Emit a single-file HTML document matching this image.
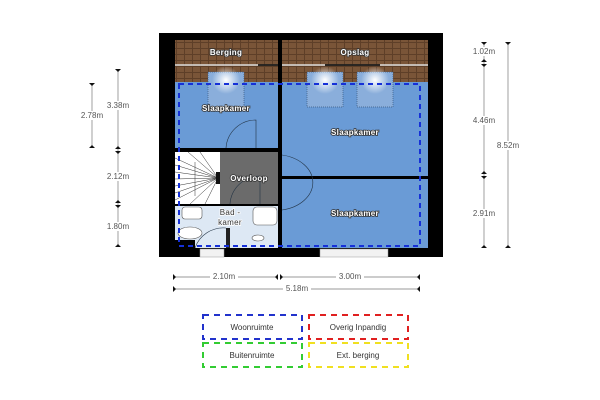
<!DOCTYPE html>
<html><head><meta charset="utf-8"><style>
html,body{margin:0;padding:0;background:#fff;width:600px;height:400px;overflow:hidden}
svg text{font-family:"Liberation Sans",sans-serif}
.rl{font-size:8px;fill:#fff;stroke:#333;stroke-width:1.6px;paint-order:stroke;font-weight:bold;letter-spacing:0.3px}
.bl{font-size:8px;fill:#333;stroke:#fff;stroke-width:1.5px;paint-order:stroke;letter-spacing:0.3px}
.dim{font-size:8px;fill:#555}
.lg{font-size:8px;fill:#333}
</style></head><body>
<svg width="600" height="400" viewBox="0 0 600 400" xmlns="http://www.w3.org/2000/svg">
<defs>
<pattern id="br" width="8" height="6" patternUnits="userSpaceOnUse">
<rect width="8" height="6" fill="#7a5538"/>
<path d="M0 0.5H8M0.5 0V6" stroke="#5e3f28" stroke-width="1"/>
</pattern>
<radialGradient id="gl"><stop offset="0" stop-color="#fff"/><stop offset="1" stop-color="#fff" stop-opacity="0"/></radialGradient>
</defs>
<rect x="159" y="33" width="284" height="224" fill="#000"/>
<rect x="175" y="40" width="103" height="42" fill="url(#br)"/>
<rect x="282" y="40" width="146" height="42" fill="url(#br)"/>
<line x1="175" y1="65" x2="278" y2="65" stroke="#ddd" stroke-width="1.5"/>
<line x1="282" y1="65" x2="428" y2="65" stroke="#ddd" stroke-width="1.5"/>
<line x1="258" y1="65" x2="278" y2="65" stroke="#000" stroke-width="1.5"/>
<line x1="325" y1="65" x2="380" y2="65" stroke="#000" stroke-width="1.5"/>
<rect x="175" y="82" width="103" height="66" fill="#6a9bd6"/>
<rect x="282" y="82" width="146" height="94" fill="#6a9bd6"/>
<rect x="282" y="179" width="146" height="69" fill="#6a9bd6"/>
<rect x="175" y="152" width="45" height="52" fill="#fff"/>
<rect x="220" y="152" width="58" height="52" fill="#6b6b6b"/>
<rect x="175" y="206" width="103" height="42" fill="#dde8f4"/>
<line x1="278" y1="177" x2="428" y2="177" stroke="#000" stroke-width="2"/>
<rect x="208" y="72" width="36" height="35" fill="#8aaedb" stroke="#3a5a80" stroke-dasharray="1,1" stroke-width="0.7"/>
<rect x="307" y="72" width="36" height="35" fill="#8aaedb" stroke="#3a5a80" stroke-dasharray="1,1" stroke-width="0.7"/>
<rect x="357" y="72" width="36" height="35" fill="#8aaedb" stroke="#3a5a80" stroke-dasharray="1,1" stroke-width="0.7"/>
<circle cx="226" cy="80" r="14" fill="url(#gl)"/>
<circle cx="325" cy="80" r="14" fill="url(#gl)"/>
<circle cx="375" cy="80" r="14" fill="url(#gl)"/>
<g stroke="#333" stroke-width="0.5">
<line x1="175" y1="158" x2="218" y2="178"/><line x1="175" y1="165" x2="218" y2="178"/>
<line x1="175" y1="172" x2="218" y2="178"/><line x1="175" y1="179" x2="218" y2="178"/>
<line x1="175" y1="186" x2="218" y2="178"/><line x1="175" y1="193" x2="218" y2="178"/>
<line x1="175" y1="200" x2="218" y2="178"/><line x1="188" y1="152" x2="218" y2="178"/>
<line x1="200" y1="152" x2="218" y2="178"/><line x1="190" y1="204" x2="218" y2="178"/>
<line x1="205" y1="204" x2="218" y2="178"/><line x1="195" y1="162" x2="195" y2="196"/>
</g>
<rect x="216" y="172" width="4" height="12" fill="#111"/>
<g fill="none" stroke="#234" stroke-width="0.6">
<path d="M226 148 A30 30 0 0 1 256 120 V148"/>
<path d="M282 155 A38 28 0 0 1 282 210"/>
<path d="M230 204 A30 30 0 0 1 260 176 V204"/>
<path d="M195 248 A30 30 0 0 1 226 228"/>
</g>
<rect x="278" y="152" width="4" height="23" fill="#ccc"/>
<rect x="278" y="179" width="4" height="23" fill="#ccc"/>
<rect x="226" y="228" width="4" height="20" fill="#222"/>
<rect x="182" y="207" width="20" height="12" rx="3" fill="#fff" stroke="#555" stroke-width="0.6"/>
<rect x="253" y="207" width="24" height="18" rx="4" fill="#fff" stroke="#555" stroke-width="0.6"/>
<ellipse cx="190" cy="233" rx="12" ry="6" fill="#fff" stroke="#555" stroke-width="0.6"/>
<ellipse cx="258" cy="238" rx="6" ry="3" fill="#fff" stroke="#555" stroke-width="0.6"/>
<rect x="278" y="40" width="4" height="208" fill="#000"/>
<rect x="175" y="148" width="51" height="4" fill="#000"/>
<rect x="256" y="148" width="22" height="4" fill="#000"/>
<rect x="175" y="204" width="55" height="2" fill="#000"/>
<rect x="260" y="204" width="18" height="2" fill="#000"/>
<rect x="175" y="240" width="20" height="8" fill="#000"/>
<rect x="200" y="249" width="24" height="8" fill="#f2f2f2" stroke="#999" stroke-width="0.5"/>
<rect x="320" y="249" width="68" height="8" fill="#f2f2f2" stroke="#999" stroke-width="0.5"/>
<rect x="179" y="84" width="241" height="162" fill="none" stroke="#1530d8" stroke-width="2" stroke-dasharray="5,4"/>
<text class="rl" x="226" y="55" text-anchor="middle">Berging</text>
<text class="rl" x="355" y="55" text-anchor="middle">Opslag</text>
<text class="rl" x="226" y="111" text-anchor="middle">Slaapkamer</text>
<text class="rl" x="355" y="135" text-anchor="middle">Slaapkamer</text>
<text class="rl" x="249" y="181" text-anchor="middle">Overloop</text>
<text class="bl" x="230" y="215" text-anchor="middle">Bad -</text>
<text class="bl" x="230" y="225" text-anchor="middle">kamer</text>
<text class="rl" x="355" y="216" text-anchor="middle">Slaapkamer</text>
<g stroke="#777" stroke-width="0.7">
<line x1="484" y1="42" x2="484" y2="248"/>
<line x1="508" y1="42" x2="508" y2="248"/>
<line x1="118" y1="69" x2="118" y2="247"/>
<line x1="92" y1="83" x2="92" y2="148"/>
<line x1="173" y1="277" x2="278" y2="277"/>
<line x1="280" y1="277" x2="420" y2="277"/>
<line x1="173" y1="289" x2="420" y2="289"/>
</g>
<g fill="#111">
<path d="M481 42h6l-3 3z M481 62h6l-3-3z M481 64h6l-3 3z M481 174h6l-3-3z M481 176h6l-3 3z M481 248h6l-3-3z"/>
<path d="M505 42h6l-3 3z M505 248h6l-3-3z"/>
<path d="M115 69h6l-3 3z M115 149h6l-3-3z M115 151h6l-3 3z M115 203h6l-3-3z M115 205h6l-3 3z M115 247h6l-3-3z"/>
<path d="M89 83h6l-3 3z M89 148h6l-3-3z"/>
<path d="M173 274v6l3-3z M278 274v6l-3-3z M280 274v6l3-3z M420 274v6l-3-3z M173 286v6l3-3z M420 286v6l-3-3z"/>
</g>
<g class="dim">
<rect x="470" y="47" width="28" height="9" fill="#fff"/><text x="484" y="54" text-anchor="middle">1.02m</text>
<rect x="470" y="116" width="28" height="9" fill="#fff"/><text x="484" y="123" text-anchor="middle">4.46m</text>
<rect x="470" y="209" width="28" height="9" fill="#fff"/><text x="484" y="216" text-anchor="middle">2.91m</text>
<rect x="494" y="141" width="28" height="9" fill="#fff"/><text x="508" y="148" text-anchor="middle">8.52m</text>
<rect x="104" y="101" width="28" height="9" fill="#fff"/><text x="118" y="108" text-anchor="middle">3.38m</text>
<rect x="78" y="111" width="28" height="9" fill="#fff"/><text x="92" y="118" text-anchor="middle">2.78m</text>
<rect x="104" y="172" width="28" height="9" fill="#fff"/><text x="118" y="179" text-anchor="middle">2.12m</text>
<rect x="104" y="222" width="28" height="9" fill="#fff"/><text x="118" y="229" text-anchor="middle">1.80m</text>
<rect x="210" y="272" width="28" height="9" fill="#fff"/><text x="224" y="279" text-anchor="middle">2.10m</text>
<rect x="336" y="272" width="28" height="9" fill="#fff"/><text x="350" y="279" text-anchor="middle">3.00m</text>
<rect x="283" y="284" width="28" height="9" fill="#fff"/><text x="297" y="291" text-anchor="middle">5.18m</text>
</g>
<g fill="none" stroke-width="2" stroke-dasharray="6,5">
<rect x="203" y="315" width="99" height="24" stroke="#2233cc"/>
<rect x="309" y="315" width="99" height="24" stroke="#e02020"/>
<rect x="203" y="343" width="99" height="24" stroke="#33cc33"/>
<rect x="309" y="343" width="99" height="24" stroke="#f0e020"/>
</g>
<text class="lg" x="252" y="330" text-anchor="middle">Woonruimte</text>
<text class="lg" x="358" y="330" text-anchor="middle">Overig Inpandig</text>
<text class="lg" x="252" y="358" text-anchor="middle">Buitenruimte</text>
<text class="lg" x="358" y="358" text-anchor="middle">Ext. berging</text>
</svg>
</body></html>
